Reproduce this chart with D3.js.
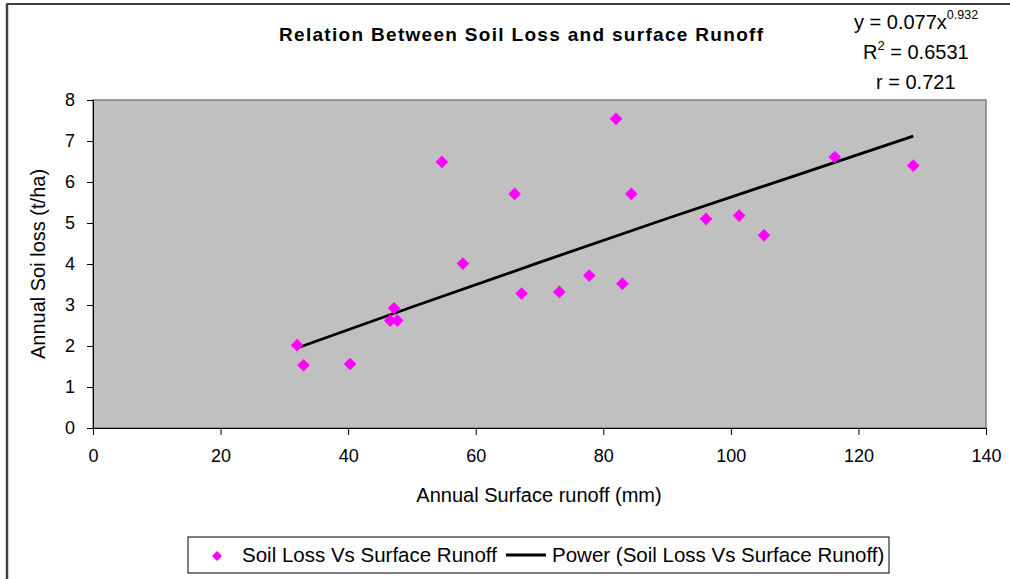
<!DOCTYPE html>
<html lang="en">
<head>
    <meta charset="UTF-8">
    <title>Relation Between Soil Loss and surface Runoff</title>
    <script src="https://d3js.org/d3.v7.min.js"></script>
    <style>
        body { margin: 0; background: #fff; }
        svg text { font-family: "Liberation Sans", Arial, sans-serif; fill: #000; }
    </style>
</head>
<body>
<svg id="chart" width="1010" height="579"></svg>
<script>
    // observed points (annual surface runoff mm, annual soil loss t/ha)
    const runoff = [32.0, 33.0, 40.3, 46.6, 47.2, 47.7, 54.7, 58.0, 66.1, 67.2,
                    73.1, 77.8, 82.0, 83.0, 84.4, 96.1, 101.3, 105.2, 116.3, 128.6];
    const soilLoss = [2.02, 1.53, 1.56, 2.62, 2.92, 2.62, 6.49, 4.01, 5.71, 3.28,
                      3.32, 3.72, 7.54, 3.52, 5.71, 5.10, 5.18, 4.70, 6.61, 6.40];

    // power trendline
    const trendX = [32, 50, 70, 90, 110, 128.6];
    const trendY = [1.95, 2.95, 4.04, 5.11, 6.15, 7.12];

    const xTicks = [0, 20, 40, 60, 80, 100, 120, 140];
    const yTicks = [0, 1, 2, 3, 4, 5, 6, 7, 8];

    const svg = d3.select("#chart");

    // outer chart frame (runs off the bottom/right of the picture)
    svg.append("rect")
        .attr("x", 7).attr("y", 4)
        .attr("width", 1100).attr("height", 700)
        .attr("fill", "#fff")
        .attr("stroke", "#000").attr("stroke-width", 1.5);
    svg.append("line")
        .attr("x1", 7).attr("x2", 7).attr("y1", 4).attr("y2", 579)
        .attr("stroke", "#404040").attr("stroke-width", 2.5);

    const pLeft = 93, pRight = 986, pTop = 100, pBottom = 428;

    const x = d3.scaleLinear().domain([0, 140]).range([pLeft, pRight]);
    const y = d3.scaleLinear().domain([0, 8]).range([pBottom, pTop]);

    // plot area
    svg.append("rect")
        .attr("x", pLeft).attr("y", pTop)
        .attr("width", pRight - pLeft).attr("height", pBottom - pTop)
        .attr("fill", "#c0c0c0")
        .attr("stroke", "#808080").attr("stroke-width", 1.5);

    // axes
    const xAxis = svg.append("g")
        .attr("transform", `translate(0,${pBottom})`)
        .call(d3.axisBottom(x).tickValues(xTicks).tickSize(7).tickPadding(14));
    const yAxis = svg.append("g")
        .attr("transform", `translate(${pLeft},0)`)
        .call(d3.axisLeft(y).tickValues(yTicks).tickSize(6).tickPadding(12));

    [xAxis, yAxis].forEach(g => {
        g.select(".domain").attr("stroke", "#000");
        g.selectAll(".tick line").attr("stroke", "#000");
        g.selectAll(".tick text")
            .style("font-family", "'Liberation Sans', Arial, sans-serif")
            .style("font-size", "18px");
    });

    // trendline
    const line = d3.line()
        .x((d, i) => x(trendX[i]))
        .y(d => y(d))
        .curve(d3.curveMonotoneX);
    svg.append("path")
        .datum(trendY)
        .attr("d", line)
        .attr("fill", "none")
        .attr("stroke", "#000")
        .attr("stroke-width", 2.8);

    // points
    const sym = d3.symbol().type(d3.symbolSquare).size(80);
    svg.append("g").selectAll("path")
        .data(runoff)
        .join("path")
        .attr("d", sym)
        .attr("transform", (d, i) => `translate(${x(d)},${y(soilLoss[i])}) rotate(45)`)
        .attr("fill", "#ff00ff");

    // title
    svg.append("text")
        .attr("x", 279).attr("y", 41)
        .attr("textLength", 484).attr("lengthAdjust", "spacing")
        .style("font-size", "19px")
        .style("font-weight", "bold")
        .text("Relation Between Soil Loss and surface Runoff");

    // equation block
    const eq = svg.append("g").style("font-size", "20px");
    const l1 = eq.append("text").attr("x", 854).attr("y", 29);
    l1.append("tspan").text("y = 0.077x");
    l1.append("tspan").attr("dy", -10).style("font-size", "12.5px").text("0.932");
    const l2 = eq.append("text").attr("x", 863).attr("y", 59);
    l2.append("tspan").text("R");
    l2.append("tspan").attr("dy", -9).style("font-size", "13px").text("2");
    l2.append("tspan").attr("dy", 9).text(" = 0.6531");
    eq.append("text").attr("x", 876).attr("y", 89).text("r = 0.721");

    // axis titles
    svg.append("text")
        .attr("x", 539).attr("y", 502)
        .attr("text-anchor", "middle")
        .style("font-size", "20px")
        .text("Annual Surface runoff (mm)");
    svg.append("text")
        .attr("transform", "translate(45,264) rotate(-90)")
        .attr("text-anchor", "middle")
        .style("font-size", "20px")
        .text("Annual Soi loss (t/ha)");

    // legend
    const lg = svg.append("g");
    lg.append("rect")
        .attr("x", 188).attr("y", 537)
        .attr("width", 701).attr("height", 36)
        .attr("fill", "#fff").attr("stroke", "#000").attr("stroke-width", 1);
    lg.append("path")
        .attr("d", d3.symbol().type(d3.symbolSquare).size(50))
        .attr("transform", "translate(217,556) rotate(45)")
        .attr("fill", "#ff00ff");
    lg.append("text").attr("x", 242).attr("y", 562)
        .style("font-size", "20.5px").text("Soil Loss Vs Surface Runoff");
    lg.append("line")
        .attr("x1", 506).attr("x2", 546).attr("y1", 555).attr("y2", 555)
        .attr("stroke", "#000").attr("stroke-width", 2.8);
    lg.append("text").attr("x", 552).attr("y", 562)
        .style("font-size", "20.5px").text("Power (Soil Loss Vs Surface Runoff)");
</script>
</body>
</html>
